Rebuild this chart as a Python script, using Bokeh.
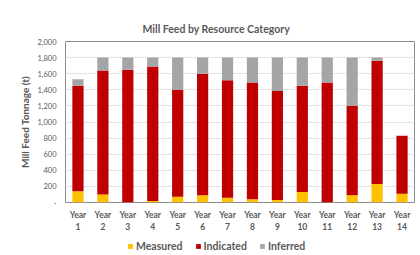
from bokeh.plotting import figure
from bokeh.models import ColumnDataSource, Legend
from bokeh.layouts import column
from bokeh.embed import file_html
from bokeh.resources import INLINE

years = ["Year\n%d" % i for i in range(1, 15)]
measured = [140, 100, 0, 20, 70, 90, 60, 40, 30, 130, 0, 90, 230, 110]
indicated = [1310, 1540, 1650, 1670, 1330, 1510, 1460, 1450, 1355, 1320, 1490, 1110, 1530, 720]
inferred = [80, 160, 150, 110, 400, 200, 280, 310, 415, 350, 310, 600, 40, 0]
series = ["Measured", "Indicated", "Inferred"]
colors = ["#FFC000", "#C00000", "#A5A5A5"]
y_ticks = list(range(0, 2001, 200))

src = ColumnDataSource(dict(x=years, Measured=measured, Indicated=indicated, Inferred=inferred))

FONT = "Lato"
GRAY = "#595959"

p = figure(x_range=years, y_range=(0, 2000), width=420, height=236,
           output_backend="svg", toolbar_location=None,
           min_border_left=65, min_border_right=6, min_border_top=41, min_border_bottom=34)

p.vbar_stack(series, x="x", width=0.45, color=colors, source=src, line_width=0)

p.title.text = "Mill Feed by Resource Category"
p.title.text_font = FONT
p.title.text_font_size = "10.5px"
p.title.text_font_style = "bold"
p.title.text_color = GRAY
p.title.align = "left"
p.title.offset = 77
p.title.standoff = 13

p.outline_line_color = "#8c8c8c"
p.outline_line_width = 1

p.xgrid.grid_line_color = None
p.ygrid.grid_line_color = "#E3E3E3"
p.ygrid.ticker = y_ticks

p.yaxis.ticker = y_ticks
p.yaxis.major_label_overrides = {t: ("{:,}".format(t) if t else "-") for t in y_ticks}
p.yaxis.axis_line_color = None
p.yaxis.major_tick_line_color = None
p.yaxis.minor_tick_line_color = None
p.yaxis.major_tick_out = 0
p.yaxis.major_tick_in = 0
p.yaxis.major_label_text_font = FONT
p.yaxis.major_label_text_font_size = "7.5px"
p.yaxis.major_label_text_color = GRAY
p.yaxis.major_label_standoff = 9
p.yaxis.axis_label = "Mill Feed Tonnage (t)"
p.yaxis.axis_label_text_font = FONT
p.yaxis.axis_label_text_font_size = "10px"
p.yaxis.axis_label_text_font_style = "bold"
p.yaxis.axis_label_text_color = GRAY
p.yaxis.axis_label_standoff = 3

p.xaxis.axis_line_color = None
p.xaxis.major_tick_line_color = None
p.xaxis.major_tick_out = 0
p.xaxis.major_tick_in = 0
p.xaxis.major_label_text_font = FONT
p.xaxis.major_label_text_font_size = "8.5px"
p.xaxis.major_label_text_font_style = "bold"
p.xaxis.major_label_text_color = GRAY
p.xaxis.major_label_standoff = 7

# legend strip below the chart: same stacked series, scrolled out of view,
# so only the legend keys show
lg = figure(width=420, height=19, x_range=years, y_range=(5000, 5001),
            output_backend="svg", toolbar_location=None, min_border=0,
            x_axis_type=None, y_axis_type=None)
lg.outline_line_color = None
lg.grid.grid_line_color = None
keys = lg.vbar_stack(series, x="x", width=0.45, color=colors, source=src, line_width=0)
legend = Legend(items=[(s, [r]) for s, r in zip(series, keys)], orientation="horizontal",
                location=(62, 3), padding=0, margin=0, spacing=12,
                glyph_width=6, glyph_height=6, label_standoff=3,
                label_text_font=FONT, label_text_font_size="10.5px",
                label_text_font_style="bold", label_text_color=GRAY,
                border_line_color=None, background_fill_alpha=0)
lg.add_layout(legend, "center")

layout = column(p, lg, spacing=0)
open("out.html", "w").write(file_html(layout, INLINE))
